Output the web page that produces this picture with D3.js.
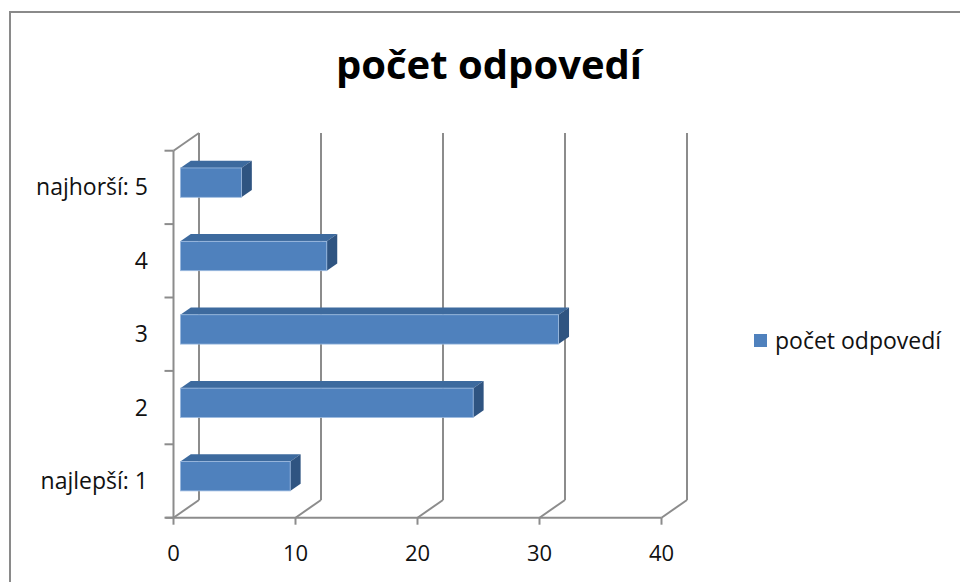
<!DOCTYPE html>
<html>
<head>
<meta charset="utf-8">
<script src="https://cdn.jsdelivr.net/npm/d3@7"></script>
<style>
  body { margin: 0; background: #fff; }
  svg text { font-family: "Open Sans", "Noto Sans", sans-serif; fill: #111; }
</style>
</head>
<body>
<svg id="chart"></svg>
<script>
// data
const categories = ['najlepší: 1', '2', '3', '4', 'najhorší: 5'];
const values = [9, 24, 31, 12, 5];
const xTicks = [0, 10, 20, 30, 40];
const seriesName = 'počet odpovedí';
const chartTitle = 'počet odpovedí';

const width = 960;
const height = 582;

// 3d depth offset of the back wall
const DX = 25.5;
const DY = 17.7;
const f0 = 0.27, f1 = 0.68; // bar depth range

const svg = d3.select('#chart')
    .attr('width', width)
    .attr('height', height);

// chart border
svg.append('rect')
    .attr('x', 10).attr('y', 12)
    .attr('width', 1000).attr('height', 700)
    .attr('fill', 'none')
    .attr('stroke', '#8a8a8a')
    .attr('stroke-width', 2);

const plotTop = 150.7, plotBottom = 517.7;

const x = d3.scaleLinear().domain([0, 40]).range([173.5, 661.5]);
const y = d3.scaleBand()
    .domain(categories.slice().reverse())
    .range([plotTop, plotBottom])
    .paddingInner(0.6)
    .paddingOuter(0.3);

const grid = '#8c8c8c';

const g = svg.append('g');

// back wall gridlines
g.selectAll('.back').data(xTicks).enter().append('line')
    .attr('x1', d => x(d) + DX).attr('x2', d => x(d) + DX)
    .attr('y1', plotTop - DY).attr('y2', plotBottom - DY)
    .attr('stroke', grid).attr('stroke-width', 2);

// floor lines
g.selectAll('.floor').data(xTicks).enter().append('line')
    .attr('x1', d => x(d)).attr('x2', d => x(d) + DX)
    .attr('y1', plotBottom).attr('y2', plotBottom - DY)
    .attr('stroke', grid).attr('stroke-width', 2);

// left wall top edge + front vertical axis
g.append('line')
    .attr('x1', x(0)).attr('x2', x(0) + DX)
    .attr('y1', plotTop).attr('y2', plotTop - DY)
    .attr('stroke', grid).attr('stroke-width', 2);
g.append('line')
    .attr('x1', x(0)).attr('x2', x(0))
    .attr('y1', plotTop).attr('y2', plotBottom)
    .attr('stroke', grid).attr('stroke-width', 2);

// bottom axis line
g.append('line')
    .attr('x1', x(0) - 8).attr('x2', x(40))
    .attr('y1', plotBottom).attr('y2', plotBottom)
    .attr('stroke', grid).attr('stroke-width', 2);

// bottom ticks
g.selectAll('.xtick').data(xTicks).enter().append('line')
    .attr('x1', d => x(d)).attr('x2', d => x(d))
    .attr('y1', plotBottom).attr('y2', plotBottom + 7)
    .attr('stroke', grid).attr('stroke-width', 2);

// left ticks at category boundaries
const step = y.step();
const boundaries = d3.range(categories.length + 1).map(i => plotTop + i * step);
g.selectAll('.ytick').data(boundaries).enter().append('line')
    .attr('x1', x(0) - 9).attr('x2', x(0))
    .attr('y1', d => d).attr('y2', d => d)
    .attr('stroke', grid).attr('stroke-width', 2);

// bars
const pt = (v, yy, f) => [x(v) + f * DX, yy - f * DY];
const bars = g.selectAll('.bar').data(categories.map((c, i) => ({ c, v: values[i] })))
    .enter().append('g');

bars.append('polygon')
    .attr('points', d => {
        const y0 = y(d.c);
        return [pt(0, y0, f0), pt(d.v, y0, f0), pt(d.v, y0, f1), pt(0, y0, f1)].join(' ');
    })
    .attr('fill', '#3d6a9e');

bars.append('polygon')
    .attr('points', d => {
        const y0 = y(d.c), y1 = y(d.c) + y.bandwidth();
        return [pt(d.v, y0, f0), pt(d.v, y0, f1), pt(d.v, y1, f1), pt(d.v, y1, f0)].join(' ');
    })
    .attr('fill', '#2f5481');

bars.append('rect')
    .attr('x', d => x(0) + f0 * DX)
    .attr('y', d => y(d.c) - f0 * DY)
    .attr('width', d => x(d.v) - x(0))
    .attr('height', y.bandwidth())
    .attr('fill', '#4f81bd')
    .attr('stroke', '#9dbbe0')
    .attr('stroke-width', 0.8);

// category labels
svg.selectAll('.ylab').data(categories).enter().append('text')
    .attr('x', 148)
    .attr('y', d => y(d) + y.bandwidth() / 2)
    .attr('dy', '0.35em')
    .attr('text-anchor', 'end')
    .style('font-size', '23px')
    .text(d => d);

// value labels
svg.selectAll('.xlab').data(xTicks).enter().append('text')
    .attr('x', d => x(d))
    .attr('y', 561)
    .attr('text-anchor', 'middle')
    .style('font-size', '22px')
    .text(d => d);

// title
svg.append('text')
    .attr('x', 489).attr('y', 79)
    .attr('text-anchor', 'middle')
    .style('font-size', '40px')
    .style('font-weight', 'bold')
    .style('fill', '#000')
    .text(chartTitle);

// legend
const legend = svg.append('g').attr('transform', 'translate(754,334)');
legend.append('rect')
    .attr('width', 13).attr('height', 13)
    .attr('fill', '#4f81bd');
legend.append('text')
    .attr('x', 21).attr('y', 15)
    .style('font-size', '23px')
    .text(seriesName);
</script>
</body>
</html>
